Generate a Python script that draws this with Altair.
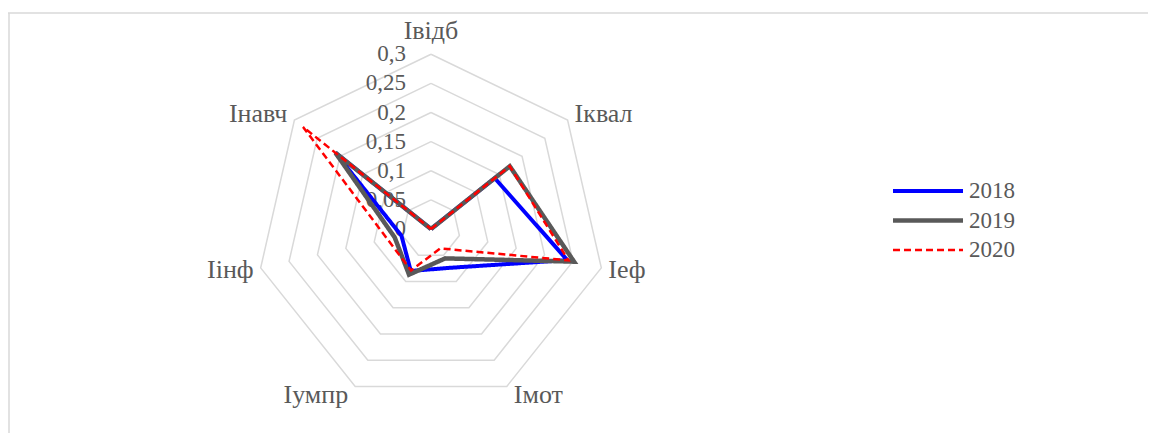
import altair as alt
import pandas as pd

# ---------------- data ----------------
categories = ["Івідб", "Іквал", "Іеф", "Імот", "Іумпр", "Іінф", "Інавч"]
years = ["2018", "2019", "2020"]
v2018 = [0.0, 0.140, 0.240, 0.074, 0.080, 0.052, 0.210]
v2019 = [0.0, 0.173, 0.252, 0.056, 0.087, 0.064, 0.210]
v2020 = [0.0, 0.173, 0.242, 0.037, 0.079, 0.077, 0.281]
grid_levels = [0.0, 0.05, 0.10, 0.15, 0.20, 0.25, 0.30]
tick_labels = ["0", "0,05", "0,1", "0,15", "0,2", "0,25", "0,3"]

N = len(categories)
R = max(grid_levels)
series = dict(zip(years, [v2018, v2019, v2020]))

series_df = pd.DataFrame(
    [{"year": y, "k": k, "value": vals[k % N]} for y, vals in series.items() for k in range(N + 1)]
)
grid_df = pd.DataFrame([{"level": lv, "k": k} for lv in grid_levels for k in range(N + 1)])
tick_df = pd.DataFrame({"level": grid_levels, "label": tick_labels})
cat_df = pd.DataFrame({"cat": categories, "k": list(range(N))})

# ---------------- geometry / scales ----------------
W, H = 1140, 425
CX, CY = 423, 221          # centre of the radar inside the view (px)
PPU = 174.7 / R            # pixels per data unit
xscale = alt.Scale(domain=[-CX / PPU, (W - CX) / PPU], nice=False, zero=False)
yscale = alt.Scale(domain=[-(H - CY) / PPU, CY / PPU], nice=False, zero=False)

FONT = "Times New Roman, Liberation Serif, serif"
TXT = "#595959"
GRID = "#d9d9d9"
CAT_FS = 26

ang = f"2*PI*datum.k/{N}"

grid = (
    alt.Chart(grid_df)
    .transform_calculate(px=f"datum.level*sin({ang})", py=f"datum.level*cos({ang})")
    .mark_line(color=GRID, strokeWidth=1.5)
    .encode(
        x=alt.X("px:Q", scale=xscale, axis=None),
        y=alt.Y("py:Q", scale=yscale, axis=None),
        detail="level:N",
        order="k:Q",
    )
)

ticks = (
    alt.Chart(tick_df)
    .transform_calculate(px="0")
    .mark_text(align="right", baseline="middle", dx=-25, font=FONT, fontSize=23, color=TXT)
    .encode(
        x=alt.X("px:Q", scale=xscale, axis=None),
        y=alt.Y("level:Q", scale=yscale, axis=None),
        text="label:N",
    )
)

cat_base = alt.Chart(cat_df).transform_calculate(
    s=f"sin({ang})", c=f"cos({ang})"
).transform_calculate(
    lx=f"{R}*datum.s", ly=f"({R}+9/{PPU})*datum.c", ty=f"{R}*datum.c"
)
cat_enc = dict(
    x=alt.X("lx:Q", scale=xscale, axis=None),
    y=alt.Y("ly:Q", scale=yscale, axis=None),
    text="cat:N",
)
cat_top = cat_base.transform_filter("abs(datum.s) < 0.01").mark_text(
    align="center", baseline="middle", dy=-23, font=FONT, fontSize=CAT_FS, color=TXT
).encode(
    x=alt.X("lx:Q", scale=xscale, axis=None),
    y=alt.Y("ty:Q", scale=yscale, axis=None),
    text="cat:N",
)
cat_right = cat_base.transform_filter("datum.s >= 0.01").mark_text(
    align="left", baseline="middle", dx=7, font=FONT, fontSize=CAT_FS, color=TXT
).encode(**cat_enc)
cat_left = cat_base.transform_filter("datum.s <= -0.01").mark_text(
    align="right", baseline="middle", dx=-7, font=FONT, fontSize=CAT_FS, color=TXT
).encode(**cat_enc)

leg = alt.Legend(
    title=None,
    orient="none",
    legendX=908.5,
    legendY=171.5,
    symbolType="M-3.889,0H3.889",
    symbolSize=324,
    symbolOffset=0,
    labelFont=FONT,
    labelFontSize=23,
    labelColor=TXT,
    labelOffset=29.5,
    rowPadding=5.5,
    padding=0,
    offset=0,
)

lines = (
    alt.Chart(series_df)
    .transform_calculate(px=f"datum.value*sin({ang})", py=f"datum.value*cos({ang})")
    .mark_line(strokeJoin="miter")
    .encode(
        x=alt.X("px:Q", scale=xscale, axis=None),
        y=alt.Y("py:Q", scale=yscale, axis=None),
        color=alt.Color("year:N", scale=alt.Scale(domain=years, range=["#0000ff", "#595959", "#ff0000"]), legend=leg),
        strokeDash=alt.StrokeDash("year:N", scale=alt.Scale(domain=years, range=[[1, 0], [1, 0], [7, 4]]), legend=leg),
        strokeWidth=alt.StrokeWidth("year:N", scale=alt.Scale(type="ordinal", domain=years, range=[4, 4.5, 2.5]), legend=leg),
        order="k:Q",
    )
)

frame_df = pd.DataFrame({"a": [0]})
frame_top = alt.Chart(frame_df).mark_rule(color=GRID, strokeWidth=1.5).encode(
    x=alt.value(0), x2=alt.value(W), y=alt.value(5)
)
frame_left = alt.Chart(frame_df).mark_rule(color=GRID, strokeWidth=1.5).encode(
    x=alt.value(1), y=alt.value(5), y2=alt.value(H)
)

chart = (
    alt.layer(grid, ticks, cat_top, cat_right, cat_left, lines, frame_top, frame_left)
    .properties(width=W, height=H, autosize=alt.AutoSizeParams(type="none"), padding=0)
    .configure_view(stroke=None)
)

chart.save("out.html", embed_options={"renderer": "svg", "actions": False})
